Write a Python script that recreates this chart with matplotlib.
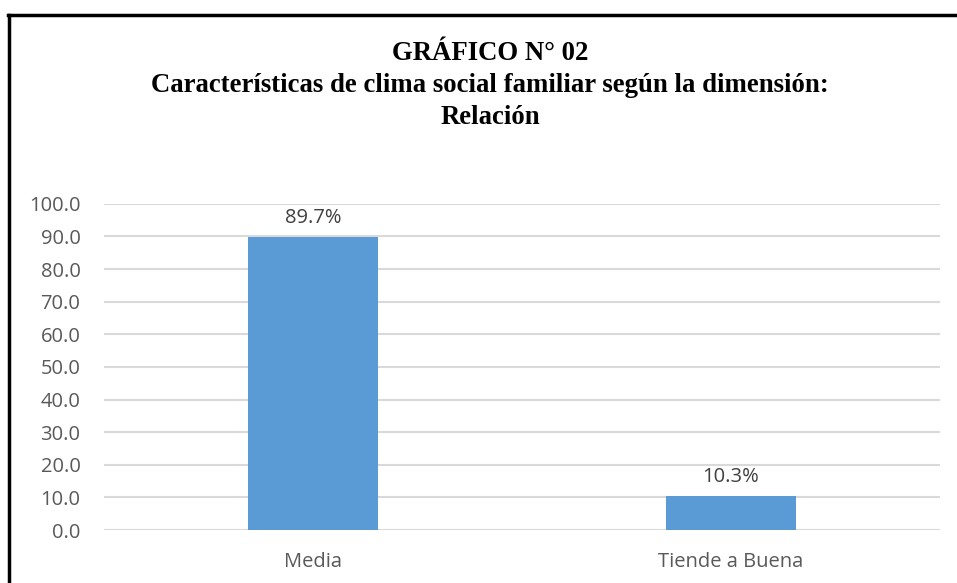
import matplotlib.pyplot as plt
from matplotlib.lines import Line2D

categories = ["Media", "Tiende a Buena"]
values = [89.7, 10.3]
labels = ["89.7%", "10.3%"]
yticks = [0, 10, 20, 30, 40, 50, 60, 70, 80, 90, 100]

fig = plt.figure(figsize=(9.57, 5.83), dpi=100)
ax = fig.add_axes([0.1087, 0.0909, 0.8733, 0.5594])

x = range(len(categories))
ax.bar(x, values, width=0.31, color="#5B9BD5", zorder=3)
for i, v in enumerate(values):
    ax.annotate(labels[i], (i, v), xytext=(0, 7), textcoords="offset points",
                ha="center", va="bottom", fontsize=14.5, color="#404040",
                family="Open Sans")

ax.set_xlim(-0.5, 1.5)
ax.set_ylim(0, 100)
ax.set_yticks(yticks)
ax.set_yticklabels([f"{t:.1f}" for t in yticks], family="Open Sans",
                   fontsize=14.5, color="#595959")
ax.set_xticks(list(x))
ax.set_xticklabels(categories, family="Open Sans", fontsize=14.5, color="#595959")
ax.tick_params(length=0)
ax.tick_params(axis="x", pad=16)
ax.tick_params(axis="y", pad=17)
ax.grid(axis="y", color="#d9d9d9", linewidth=1.5, zorder=0)
for s in ax.spines.values():
    s.set_visible(False)

fig.text(0.512, 0.93, "GRÁFICO N° 02\nCaracterísticas de clima social familiar según la dimensión:\nRelación",
         ha="center", va="top", family="Liberation Serif", fontweight="bold",
         fontsize=19.3, linespacing=1.38)

# marco del grafico (solo arriba e izquierda)
fig.add_artist(Line2D([0.0085, 1.0], [0.974, 0.974], color="black", linewidth=2.5))
fig.add_artist(Line2D([0.0094, 0.0094], [0.0, 0.974], color="black", linewidth=2.5))

plt.savefig("out.png", dpi=100)
